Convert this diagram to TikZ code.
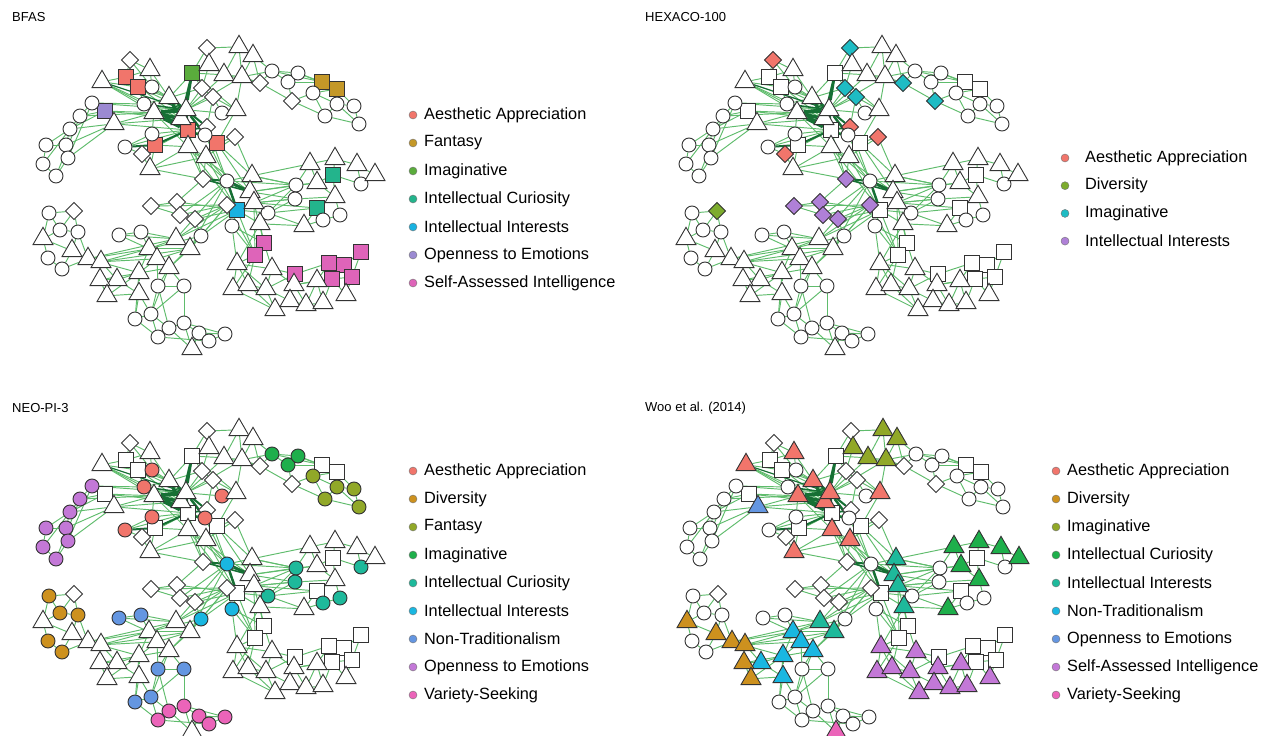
\documentclass[tikz,border=0pt]{standalone}
\usepackage{fontspec}
\setmainfont{Liberation Sans}
\usetikzlibrary{shapes.geometric}
\pgfdeclarelayer{bg}
\pgfsetlayers{bg,main}
% BFAS palette (7)
\definecolor{q1}{RGB}{241,117,107}
\definecolor{q2}{RGB}{196,152,40}
\definecolor{q3}{RGB}{90,172,60}
\definecolor{q4}{RGB}{35,180,140}
\definecolor{q5}{RGB}{25,178,225}
\definecolor{q6}{RGB}{155,138,210}
\definecolor{q7}{RGB}{222,100,185}
% HEXACO palette (4)
\definecolor{r1}{RGB}{241,117,107}
\definecolor{r2}{RGB}{125,172,45}
\definecolor{r3}{RGB}{30,188,196}
\definecolor{r4}{RGB}{175,128,215}
% NEO / Woo palette (9)
\definecolor{p1}{RGB}{241,117,107}
\definecolor{p2}{RGB}{205,145,30}
\definecolor{p3}{RGB}{145,168,40}
\definecolor{p4}{RGB}{30,175,75}
\definecolor{p5}{RGB}{30,185,155}
\definecolor{p6}{RGB}{25,183,225}
\definecolor{p7}{RGB}{100,150,225}
\definecolor{p8}{RGB}{195,120,215}
\definecolor{p9}{RGB}{235,100,185}
\definecolor{edgec}{RGB}{95,188,108}
\definecolor{dedgec}{RGB}{22,112,52}
\tikzset{
  nd/.style={draw=black!80, line width=0.9pt, inner sep=0pt},
  nd c/.style={nd, circle, minimum size=14pt},
  nd s/.style={nd, rectangle, minimum size=14.5pt},
  nd t/.style={nd, regular polygon, regular polygon sides=3, minimum size=23pt, yshift=-2.8pt},
  nd d/.style={nd, diamond, minimum width=17.5pt, minimum height=17.5pt},
  col c/.style={fill=white},
  col s/.style={fill=white},
  col t/.style={fill=white},
  col d/.style={fill=white},
  edge/.style={draw=edgec, line width=0.95pt},
  dedge/.style={draw=dedgec, line width=#1},
  legdot/.style={circle, draw=black!55, line width=0.4pt, minimum size=8pt, inner sep=0pt},
  legtxt/.style={anchor=west, font=\fontsize{16.3}{18}\selectfont, inner sep=0pt},
  ttl/.style={anchor=west, font=\fontsize{13}{15}\selectfont, inner sep=0pt},
}
\def\nodelist{%
3/126/77/s/q1, 5/138/87/s/q1, 39/188/130/s/q1, 22/155/145/s/q1, 42/217/143/s/q1,
29/192/73/s/q3, 50/322/82/s/q2, 51/337/89/s/q2, 10/105/111/s/q6, 72/333/175/s/q4,
78/317/208/s/q4, 63/237/210/s/q5, 117/264/243/s/q7, 118/255/255/s/q7, 124/295/274/s/q7,
127/329/263/s/q7, 128/344/265/s/q7, 129/361/252/s/q7, 130/332/279/s/q7, 131/352/277/s/q7,
1/130/60/d/r1, 25/207/48/d/r3, 33/202/88/d/r3, 35/213/97/d/r3, 32/260/83/d/r3,
49/292/101/d/r3, 40/207/127/d/r1, 43/235/137/d/r1, 24/142/154/d/r1, 57/203/179/d/r4,
62/227/205/d/r4, 82/151/206/d/r4, 83/177/202/d/r4, 84/180/215/d/r4, 85/195/219/d/r4,
98/74/211/d/r2,
6/152/87/c/p1, 7/144/104/c/p1, 20/152/134/c/p1, 21/125/147/c/p1, 37/222/113/c/p1,
41/205/135/c/p1, 12/92/103/c/p8, 13/80/116/c/p8, 14/70/129/c/p8, 15/46/145/c/p8,
16/66/145/c/p8, 17/68/158/c/p8, 18/43/164/c/p8, 19/56/176/c/p8, 46/272/71/c/p4,
47/288/82/c/p4, 48/298/73/c/p4, 52/313/93/c/p3, 53/337/104/c/p3, 54/354/106/c/p3,
55/325/116/c/p3, 56/359/124/c/p3, 58/227/181/c/p6, 65/232/226/c/p6, 66/201/236/c/p6,
67/268/213/c/p5, 74/296/185/c/p5, 75/361/184/c/p5, 76/295/199/c/p5, 79/323/220/c/p5,
80/340/215/c/p5, 86/119/235/c/p7, 87/141/232/c/p7, 94/158/286/c/p7, 95/184/286/c/p7,
110/135/319/c/p7, 111/151/314/c/p7, 97/49/213/c/p2, 99/60/230/c/p2, 100/78/232/c/p2,
103/48/258/c/p2, 104/62/269/c/p2, 112/169/328/c/p9, 113/184/323/c/p9, 114/199/333/c/p9,
115/225/334/c/p9, 116/158/337/c/p9, 137/209/341/c/p9,
2/102/79/t/p1, 4/150/67/t/p1, 8/154/110/t/p1, 9/169/95/t/p1, 11/114/121/t/p7,
23/150/166/t/p1, 26/239/44/t/p3, 27/253/53/t/p3, 28/209/62/t/p3, 30/224/72/t/p3,
31/242/74/t/p3, 34/181/116/t/p1, 36/186/107/t/p1, 38/236/107/t/p1, 44/188/144/t/p1,
45/206/154/t/p1, 59/252/173/t/p5, 60/250/189/t/p5, 61/254/200/t/p5, 64/260/221/t/p5,
68/310/161/t/p4, 69/335/156/t/p4, 70/357/162/t/p4, 71/375/172/t/p4, 73/317/180/t/p4,
77/335/194/t/p4, 81/304/223/t/p4, 88/176/236/t/p5, 89/190/246/t/p5, 90/149/246/t/p6,
91/157/256/t/p6, 92/169/265/t/p6, 93/139/270/t/p6, 96/139/291/t/p6, 108/117/277/t/p6,
101/43/236/t/p2, 102/72/248/t/p2, 105/88/256/t/p2, 106/101/259/t/p2, 107/100/277/t/p2,
109/107/293/t/p2, 119/237/261/t/p8, 120/272/266/t/p8, 121/233/286/t/p8, 122/248/282/t/p8,
123/266/286/t/p8, 125/294/282/t/p8, 126/317/278/t/p8, 132/346/292/t/p8, 133/275/307/t/p8,
134/290/298/t/p8, 135/306/302/t/p8, 136/323/300/t/p8, 138/192/346/t/p9}
\def\edgelist{%
15/16, 15/18, 16/17, 18/19, 17/19, 16/14, 15/14, 14/13, 13/12, 12/10, 13/10, 10/11, 14/11,
17/11, 16/11, 19/13, 18/14, 12/7, 10/8, 10/34, 11/34, 11/39, 13/8, 11/8, 12/36, 14/10, 17/12,
2/3, 2/5, 3/1, 3/4, 1/4, 5/6, 5/7, 3/9, 5/9, 2/8, 2/34, 4/9, 6/9, 1/6, 7/8, 7/9, 3/34, 5/36, 4/6, 2/7,
9/29, 29/28, 29/33, 33/36, 35/36, 35/40, 40/41, 39/41, 41/42, 44/45, 42/45, 39/44, 8/44, 9/40,
29/38, 33/9, 28/33, 35/38,
21/24, 22/24, 22/23, 24/23, 20/39, 21/39, 22/44, 23/44, 20/8, 20/22, 21/20, 23/45, 24/39,
25/28, 25/26, 26/27, 28/30, 30/31, 27/31, 26/31, 28/29, 30/29, 27/46, 31/46, 46/47, 47/48, 46/48,
30/32, 32/46, 31/32, 37/38, 35/37, 33/35, 37/36, 38/31, 38/42, 26/30, 25/29, 27/32, 30/36, 31/36,
48/50, 47/50, 50/51, 50/52, 51/52, 51/53, 52/55, 53/54, 53/55, 54/56, 55/56, 47/49, 49/52, 49/55,
51/54, 48/51, 46/50, 32/49, 53/56, 52/53,
45/58, 44/58, 43/45, 43/42, 57/58, 44/60, 59/60, 59/58, 60/61, 61/63, 62/63, 63/64, 63/65, 62/65,
61/67, 64/67, 42/59, 41/58, 39/57, 45/57, 43/59, 42/60, 44/57, 45/63, 40/58, 44/63, 23/57,
68/69, 69/70, 70/71, 68/73, 69/72, 72/73, 72/75, 70/75, 71/75, 73/74, 74/76, 76/77, 77/78, 78/79,
79/80, 80/77, 78/81, 81/79, 74/60, 74/59, 76/61, 67/76, 67/74, 67/78, 61/74, 73/77, 68/74, 72/77,
59/68, 60/73, 61/76, 64/81, 67/81, 60/76, 59/74, 58/74, 63/67, 61/78,
82/83, 83/84, 84/85, 82/84, 85/62, 84/62, 83/63, 85/66, 86/87, 87/88, 86/88, 88/89, 88/90, 90/91,
91/92, 89/92, 90/93, 93/96, 91/94, 92/95, 92/94, 95/94, 89/66, 66/62, 66/63, 88/62, 89/62, 87/90,
83/57, 85/63, 88/58, 89/58, 82/62, 90/89, 91/89, 93/91, 86/90, 88/63, 92/66, 90/66, 84/58,
97/98, 97/99, 98/100, 99/100, 99/101, 101/103, 103/104, 104/105, 102/105, 100/102, 101/102,
105/106, 106/107, 107/108, 107/109, 106/108, 108/93, 106/90, 105/88, 106/91, 108/96, 109/96,
98/99, 102/104, 105/93, 106/89, 107/92, 97/101, 100/105, 109/93, 105/90,
96/110, 96/111, 94/111, 110/111, 111/112, 110/116, 112/113, 112/116, 113/114, 114/137, 114/115,
137/115, 116/137, 113/138, 112/138, 114/138, 95/113, 94/112, 93/110, 92/111, 111/116, 115/113, 95/111,
64/117, 65/117, 65/118, 117/118, 118/119, 117/120, 119/121, 119/122, 121/122, 122/123, 120/123,
120/124, 123/124, 124/125, 125/126, 126/127, 127/128, 128/129, 127/130, 130/131, 128/131, 129/131,
131/132, 130/126, 133/134, 134/135, 135/136, 136/126, 133/122, 133/123, 134/124, 135/125, 124/127,
118/121, 120/119, 64/119, 61/117, 63/118, 65/119, 62/118, 136/130, 132/130, 125/130, 134/123,
135/126, 121/133, 119/123, 118/122, 120/125, 61/118}
\def\darklist{%
8/36/4pt, 8/34/3.5pt, 9/34/3pt, 9/36/3pt, 29/36/2.5pt, 29/34/2pt, 34/39/3pt, 36/39/2.5pt, 8/39/5pt,
36/41/2.5pt, 36/40/2pt, 34/44/2pt, 39/42/2pt, 21/22/2pt, 22/39/2pt, 58/60/3pt,
58/63/2.5pt, 57/58/2pt, 57/60/1.6pt, 9/39/2.5pt, 7/36/1.6pt, 39/40/1.8pt, 2/36/1.2pt}
\newcommand{\drawnet}[1]{%
  \foreach \n/\x/\y/\s/\c in \nodelist {
    \node[nd \s, col \s=\c] (#1\n) at (\x,\y) {};
  }
  \begin{pgfonlayer}{bg}
    \foreach \a/\b in \edgelist { \draw[edge] (#1\a) -- (#1\b); }
    \foreach \a/\b/\w in \darklist { \draw[dedge=\w] (#1\a) -- (#1\b); }
  \end{pgfonlayer}
}
\begin{document}
\begin{tikzpicture}[x=1pt,y=-1pt]
\begin{pgfonlayer}{bg}
  \fill[white] (0,0) rectangle (1270,736);
\end{pgfonlayer}
\useasboundingbox (0,0) rectangle (1270,736);
% ---------- BFAS ----------
\node[ttl] (tb) at (12,17) {BFAS};
\begin{scope}[col s/.style={fill=#1}]
  \drawnet{b}
\end{scope}
\foreach \i/\c/\t in {0/q1/Aesthetic Appreciation, 1/q2/Fantasy, 2/q3/Imaginative,
  3/q4/Intellectual Curiosity, 4/q5/Intellectual Interests, 5/q6/Openness to Emotions,
  6/q7/Self-Assessed Intelligence} {
  \node[legdot, fill=\c] (bd\i) at (413,115+28*\i) {};
  \node[legtxt] (bt\i) at (424,115+28*\i) {\t};
}
% ---------- HEXACO ----------
\node[ttl] (th) at (645,17) {HEXACO-100};
\begin{scope}[shift={(643,0)}, col d/.style={fill=#1}]
  \drawnet{h}
\end{scope}
\foreach \i/\c/\t in {0/r1/Aesthetic Appreciation, 1/r2/Diversity, 2/r3/Imaginative,
  3/r4/Intellectual Interests} {
  \node[legdot, fill=\c] (hd\i) at (1065,158+27.7*\i) {};
  \node[legtxt] (ht\i) at (1085,158+27.7*\i) {\t};
}
% ---------- NEO ----------
\node[ttl] (tn) at (12,408) {NEO-PI-3};
\begin{scope}[shift={(0,383)}, col c/.style={fill=#1}]
  \drawnet{n}
\end{scope}
\foreach \i/\c/\t in {0/p1/Aesthetic Appreciation, 1/p2/Diversity, 2/p3/Fantasy,
  3/p4/Imaginative, 4/p5/Intellectual Curiosity, 5/p6/Intellectual Interests,
  6/p7/Non-Traditionalism, 7/p8/Openness to Emotions, 8/p9/Variety-Seeking} {
  \node[legdot, fill=\c] (nd\i) at (413,471+28*\i) {};
  \node[legtxt] (nt\i) at (424,471+28*\i) {\t};
}
% ---------- Woo ----------
\node[ttl] (tw) at (645,408) {Woo et al. (2014)};
\begin{scope}[shift={(644,383)}, col t/.style={fill=#1}]
  \drawnet{w}
\end{scope}
\foreach \i/\c/\t in {0/p1/Aesthetic Appreciation, 1/p2/Diversity, 2/p3/Imaginative,
  3/p4/Intellectual Curiosity, 4/p5/Intellectual Interests, 5/p6/Non-Traditionalism,
  6/p7/Openness to Emotions, 7/p8/Self-Assessed Intelligence, 8/p9/Variety-Seeking} {
  \node[legdot, fill=\c] (wd\i) at (1056,471+28*\i) {};
  \node[legtxt] (wt\i) at (1067,471+28*\i) {\t};
}
\end{tikzpicture}
\end{document}
